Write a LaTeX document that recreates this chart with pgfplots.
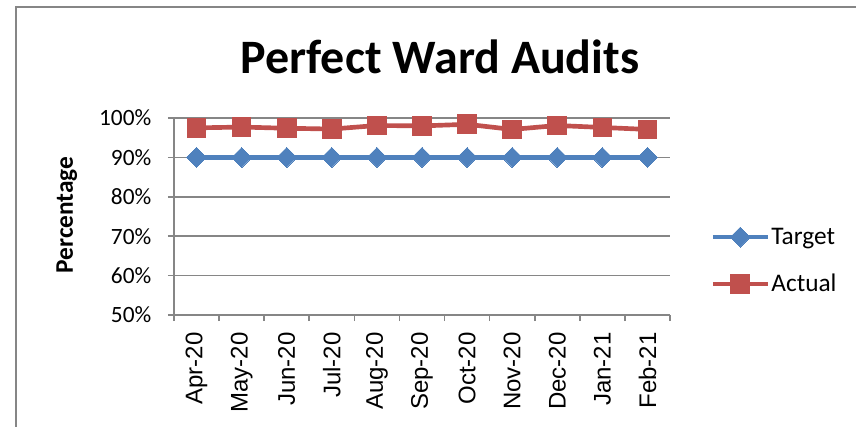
\documentclass[border=0pt]{standalone}
\usepackage{fontspec}
\setmainfont{Carlito}
\newfontfamily\arialfont{Liberation Sans}
\usepackage{pgfplots}
\pgfplotsset{compat=1.18}
\definecolor{tblue}{HTML}{4F81BD}
\definecolor{ared}{HTML}{C0504D}
\definecolor{gridgray}{HTML}{868686}
\begin{document}
\begin{tikzpicture}
\path[use as bounding box] (0pt,0pt) rectangle (642pt,-320.25pt);
\draw[gridgray, line width=1.5pt] (12pt,-322pt) -- (12pt,-5.25pt) -- (644pt,-5.25pt);
\node[font=\fontsize{36}{40}\selectfont\bfseries] at (330pt,-42.75pt) {Perfect Ward Audits};
\begin{axis}[
  at={(130.5pt,-236.25pt)}, anchor=south west,
  scale only axis, width=372pt, height=147.75pt,
  xmin=-0.5, xmax=10.5, ymin=50, ymax=100,
  axis lines=left, axis line style={-, gridgray, line width=1.2pt},
  xtick={0,...,10},
  xticklabels={Apr-20,May-20,Jun-20,Jul-20,Aug-20,Sep-20,Oct-20,Nov-20,Dec-20,Jan-21,Feb-21},
  minor xtick={-0.5,0.5,...,10.5},
  major x tick style={draw=none},
  minor x tick style={gridgray, line width=1.2pt},
  ytick={50,60,...,100},
  y tick style={gridgray, line width=1.2pt},
  tick align=outside, major tick length=4.5pt, minor tick length=4.5pt,
  ymajorgrids, xmajorgrids=false, xminorgrids=false,
  y grid style={gridgray, line width=1.2pt},
  yticklabel={\pgfmathprintnumber[assume math mode=true]{\tick}\%},
  yticklabel style={font=\fontsize{17.5}{20}\selectfont, xshift=-9pt},
  xticklabel style={font=\arialfont\fontsize{18}{20}\selectfont, rotate=90, anchor=east, xshift=-5pt},
  ylabel={Percentage},
  ylabel style={font=\fontsize{19}{22}\selectfont\bfseries, at={(axis description cs:-0.216,0.508)}, anchor=center},
  legend style={draw=none, fill=none, at={(axis description cs:1.081,0.275)}, anchor=west,
    inner xsep=0pt, font=\fontsize{19}{22}\selectfont, row sep=19pt, nodes={inner sep=1pt}},
  legend cell align=left,
  legend image code/.code={\draw[mark repeat=2, mark phase=2] plot coordinates {(0pt,0pt) (20.6pt,0pt) (41.2pt,0pt)};},
  clip=false,
]
\addplot[tblue, line width=3.5pt, mark=diamond*, mark size=7.5pt, mark options={solid, xscale=1.33, line width=0pt}]
  coordinates {(0,90) (1,90) (2,90) (3,90) (4,90) (5,90) (6,90) (7,90) (8,90) (9,90) (10,90)};
\addlegendentry{Target}
\addplot[ared, line width=3.5pt, mark=square*, mark size=7pt, mark options={solid, line width=0pt}]
  coordinates {(0,97.5) (1,97.7) (2,97.4) (3,97.2) (4,98.1) (5,98.0) (6,98.4) (7,97.1) (8,98.1) (9,97.6) (10,97.1)};
\addlegendentry{Actual}
\end{axis}
\end{tikzpicture}
\end{document}
